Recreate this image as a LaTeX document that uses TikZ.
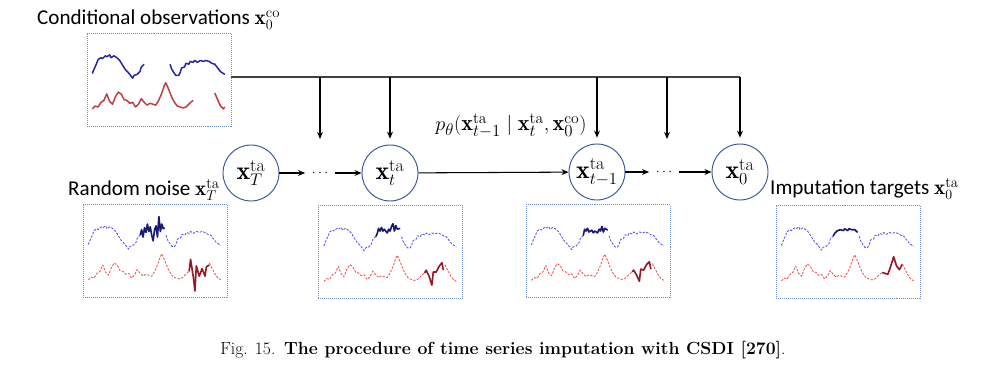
\documentclass[tikz,border=0pt]{standalone}
\usepackage{fontspec}
\setsansfont{Carlito}
\usetikzlibrary{arrows.meta}
\definecolor{circ}{RGB}{50,85,150}
\definecolor{framec}{RGB}{110,140,200}
\definecolor{bl}{RGB}{85,85,245}
\definecolor{bd}{RGB}{25,25,120}
\definecolor{bc}{RGB}{40,40,165}
\definecolor{rl}{RGB}{240,85,85}
\definecolor{rd}{RGB}{150,25,40}
\definecolor{rc}{RGB}{190,65,65}
\def\BlueL{(0.04,0.44) -- (0.05,0.40) -- (0.07,0.33) -- (0.08,0.29) -- (0.10,0.27) -- (0.11,0.28) -- (0.13,0.25) -- (0.14,0.26) -- (0.16,0.24) -- (0.17,0.27) -- (0.19,0.25) -- (0.21,0.27) -- (0.23,0.30) -- (0.25,0.35) -- (0.27,0.40) -- (0.29,0.43) -- (0.30,0.45) -- (0.32,0.49) -- (0.33,0.46) -- (0.35,0.45) -- (0.37,0.42) -- (0.38,0.37) -- (0.40,0.34)}
\def\BlueR{(0.58,0.34) -- (0.59,0.39) -- (0.61,0.44) -- (0.62,0.46) -- (0.64,0.46) -- (0.65,0.43) -- (0.66,0.38) -- (0.68,0.37) -- (0.69,0.33) -- (0.71,0.34) -- (0.72,0.31) -- (0.74,0.32) -- (0.75,0.30) -- (0.77,0.32) -- (0.79,0.30) -- (0.81,0.31) -- (0.83,0.30) -- (0.85,0.31) -- (0.87,0.33) -- (0.89,0.34) -- (0.91,0.38) -- (0.93,0.42) -- (0.95,0.44) -- (0.96,0.45)}
\def\RedL{(0.04,0.82) -- (0.06,0.79) -- (0.08,0.80) -- (0.10,0.75) -- (0.12,0.73) -- (0.14,0.66) -- (0.16,0.74) -- (0.18,0.77) -- (0.20,0.69) -- (0.22,0.64) -- (0.24,0.66) -- (0.26,0.72) -- (0.28,0.73) -- (0.30,0.76) -- (0.32,0.75) -- (0.34,0.80) -- (0.36,0.77) -- (0.38,0.71) -- (0.40,0.75) -- (0.42,0.78) -- (0.44,0.76) -- (0.46,0.77) -- (0.48,0.78) -- (0.50,0.73) -- (0.52,0.66) -- (0.54,0.57) -- (0.55,0.54) -- (0.57,0.61) -- (0.59,0.69) -- (0.61,0.75) -- (0.63,0.79) -- (0.65,0.80) -- (0.67,0.81) -- (0.69,0.80) -- (0.71,0.77) -- (0.73,0.74) -- (0.74,0.73)}
\def\RedR{(0.88,0.64) -- (0.90,0.70) -- (0.92,0.76) -- (0.94,0.80) -- (0.96,0.82)}
\newcommand\tsseries[3]{%
\begin{scope}[shift={(#1.north west)},xscale=144,yscale=93]
\draw[bdash] \BlueL;
\draw[bsolid] (0.40,0.34) -- #2;
\draw[bdash] \BlueR;
\draw[rdash] \RedL;
\draw[rsolid] (0.74,0.73) -- #3;
\draw[rdash] \RedR;
\end{scope}}
\begin{document}
\begin{tikzpicture}[x=0.03cm,y=-0.03cm,
  lbl/.style={font=\sffamily\fontsize{18}{20}\selectfont, inner sep=0pt, anchor=west},
  tsframe/.style={draw=framec, densely dotted, line width=0.7pt, minimum width=4.32cm, minimum height=2.79cm, inner sep=0pt},
  state/.style={circle, draw=circ, line width=0.8pt, minimum size=1.68cm, inner sep=0pt, font=\fontsize{22}{24}\selectfont},
  dots/.style={inner xsep=5.5pt, inner ysep=1pt, font=\fontsize{13}{15}\selectfont},
  arr/.style={-{Stealth[length=6pt,width=5pt]}, line width=0.9pt},
  conn/.style={line width=0.9pt, draw=black!75},
  bdash/.style={bl, line width=0.75pt, dash pattern=on 2pt off 1.2pt, line join=round},
  bsolid/.style={bd, line width=1.4pt, line join=round},
  rdash/.style={rl, line width=0.75pt, dash pattern=on 2pt off 1.2pt, line join=round},
  rsolid/.style={rd, line width=1.4pt, line join=round},
  bcon/.style={bc, line width=1.3pt, line join=round},
  rcon/.style={rc, line width=1.3pt, line join=round}]
\useasboundingbox (0,0) rectangle (1000,371);

% labels
\node[lbl] (lco) at (37,20) {Conditional observations $\mathbf{x}_0^{\mathrm{co}}$};
\node[lbl] (lrn) at (68,190) {Random noise $\mathbf{x}_T^{\mathrm{ta}}$};
\node[lbl] (lim) at (770,189) {Imputation targets $\mathbf{x}_0^{\mathrm{ta}}$};

% frames
\node[tsframe] (cobs) at (159,79.5) {};
\node[tsframe] (b1) at (155,250.5) {};
\node[tsframe] (b2) at (390.5,252) {};
\node[tsframe] (b3) at (598,251) {};
\node[tsframe] (b4) at (848,251.5) {};

% states
\node[state] (xT) at (251,173) {$\mathbf{x}_T^{\mathrm{ta}}$};
\node[dots] (d1) at (320,173) {$\cdots$};
\node[state] (xt) at (390,173) {$\mathbf{x}_t^{\mathrm{ta}}$};
\node[state] (xtm) at (597,172) {$\mathbf{x}_{t-1}^{\mathrm{ta}}$};
\node[dots] (d2) at (664,172) {$\cdots$};
\node[state] (x0) at (740,172) {$\mathbf{x}_0^{\mathrm{ta}}$};
\node[font=\fontsize{19}{21}\selectfont, inner sep=0pt] (pl) at (511,126) {$p_\theta(\mathbf{x}_{t-1}^{\mathrm{ta}} \mid \mathbf{x}_t^{\mathrm{ta}}, \mathbf{x}_0^{\mathrm{co}})$};

% chain arrows
\draw[arr] (xT) -- (d1);
\draw[arr] (d1) -- (xt);
\draw[arr] (xt) -- (xtm);
\draw[arr] (xtm) -- (d2);
\draw[arr] (d2) -- (x0);

% conditioning line
\coordinate (j1) at (320,77);
\coordinate (j2) at (390,77);
\coordinate (j3) at (597,77);
\coordinate (j4) at (667,77);
\coordinate (j5) at (740,77);
\coordinate (e1) at (320,139);
\coordinate (e4) at (667,139);
\draw[conn] (cobs.east |- j1) -- (j5);
\draw[arr] (j1) -- (e1);
\draw[arr, shorten >=5pt] (j2) -- (xt.north);
\draw[arr, shorten >=5pt] (j3) -- (xtm.north);
\draw[arr] (j4) -- (e4);
\draw[arr, shorten >=5pt] (j5) -- (x0.north);

% conditional observations series
\begin{scope}[shift={(cobs.north west)},xscale=144,yscale=93]
\draw[bcon] \BlueL;
\draw[bcon] \BlueR;
\draw[rcon] \RedL;
\draw[rcon] (0.89,0.65) -- (0.91,0.72) -- (0.93,0.79) -- (0.95,0.82) -- (0.96,0.80);
\end{scope}

\tsseries{b1}{(0.41,0.28) -- (0.42,0.36) -- (0.43,0.26) -- (0.44,0.31) -- (0.45,0.22) -- (0.46,0.30) -- (0.47,0.25) -- (0.48,0.34) -- (0.49,0.40) -- (0.50,0.28) -- (0.51,0.24) -- (0.52,0.36) -- (0.53,0.14) -- (0.54,0.30) -- (0.55,0.22) -- (0.56,0.27) -- (0.57,0.26)}{(0.75,0.60) -- (0.76,0.70) -- (0.77,0.80) -- (0.78,0.94) -- (0.79,0.67) -- (0.81,0.78) -- (0.83,0.70) -- (0.85,0.78) -- (0.86,0.68) -- (0.88,0.66)}
\tsseries{b2}{(0.41,0.31) -- (0.42,0.25) -- (0.43,0.28) -- (0.44,0.24) -- (0.45,0.28) -- (0.46,0.26) -- (0.48,0.30) -- (0.49,0.26) -- (0.50,0.28) -- (0.51,0.23) -- (0.52,0.20) -- (0.53,0.28) -- (0.54,0.22) -- (0.55,0.26) -- (0.57,0.25)}{(0.75,0.70) -- (0.77,0.76) -- (0.79,0.86) -- (0.80,0.72) -- (0.82,0.72) -- (0.84,0.66) -- (0.86,0.62) -- (0.87,0.70)}
\tsseries{b3}{(0.41,0.27) -- (0.42,0.29) -- (0.43,0.26) -- (0.44,0.30) -- (0.46,0.28) -- (0.47,0.31) -- (0.48,0.29) -- (0.50,0.31) -- (0.51,0.27) -- (0.52,0.29) -- (0.53,0.24) -- (0.54,0.30) -- (0.55,0.26) -- (0.57,0.28)}{(0.75,0.71) -- (0.77,0.76) -- (0.79,0.83) -- (0.80,0.70) -- (0.82,0.71) -- (0.84,0.65) -- (0.86,0.62) -- (0.87,0.70)}
\tsseries{b4}{(0.41,0.31) -- (0.43,0.28) -- (0.45,0.27) -- (0.47,0.28) -- (0.48,0.26) -- (0.50,0.28) -- (0.51,0.26) -- (0.53,0.27) -- (0.55,0.27) -- (0.57,0.30)}{(0.76,0.74) -- (0.78,0.75) -- (0.80,0.66) -- (0.82,0.56) -- (0.84,0.66) -- (0.86,0.70) -- (0.88,0.64)}

% caption
\node[font=\fontsize{15}{17}\selectfont, inner sep=0pt] (cap) at (503,350) {Fig. 15.\enspace\textbf{The procedure of time series imputation with CSDI [270]}.};
\end{tikzpicture}
\end{document}
